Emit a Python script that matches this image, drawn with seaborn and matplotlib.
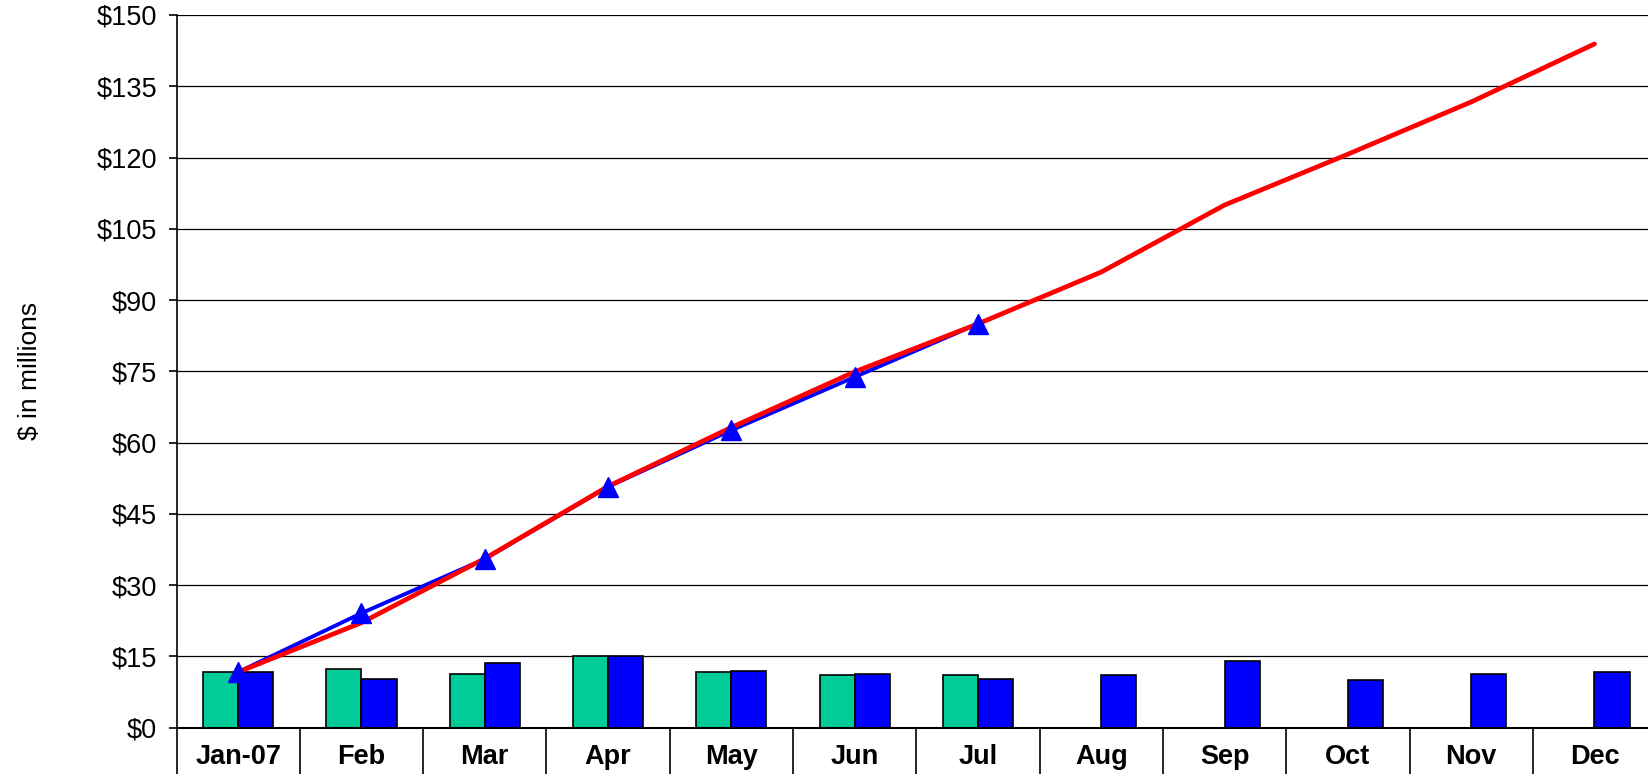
import numpy as np
import pandas as pd
import matplotlib
matplotlib.use("Agg")
import matplotlib.pyplot as plt
from matplotlib.ticker import FixedLocator, FuncFormatter
import seaborn as sns

# data
months = ["Jan-07", "Feb", "Mar", "Apr", "May", "Jun",
          "Jul", "Aug", "Sep", "Oct", "Nov", "Dec"]
actual_monthly = [11.7, 12.3, 11.3, 15.0, 11.7, 11.0, 11.0,
                  np.nan, np.nan, np.nan, np.nan, np.nan]
plan_monthly = [11.7, 10.3, 13.7, 15.0, 12.0, 11.3, 10.3,
                11.0, 14.0, 10.0, 11.3, 11.7]
actual_cum = [11.7, 24.1, 35.5, 50.7, 62.6, 73.8, 85.0,
              np.nan, np.nan, np.nan, np.nan, np.nan]
plan_cum = [11.7, 22.1, 35.6, 50.8, 63.2, 74.9, 85.0,
            95.9, 110.0, 120.7, 131.7, 143.9]

sns.set_theme(style="white")
plt.rcParams["font.family"] = ["Liberation Sans", "DejaVu Sans"]
plt.rcParams["text.color"] = "black"
plt.rcParams["xtick.color"] = "black"
plt.rcParams["ytick.color"] = "black"
plt.rcParams["axes.labelcolor"] = "black"

bars = pd.DataFrame({
    "month": months * 2,
    "value": actual_monthly + plan_monthly,
    "series": ["Actual"] * 12 + ["Plan"] * 12,
})

fig = plt.figure(figsize=(16.48, 7.74), dpi=100)
# plot area runs slightly past the right edge of the image, as in the reference
ax = fig.add_axes([176.5 / 1648, 1 - 727.7 / 774, 12 * 123.3 / 1648, (727.7 - 15) / 774])

sns.barplot(data=bars, x="month", y="value", hue="series", order=months,
            palette={"Actual": "#00CC99", "Plan": "#0000FF"}, saturation=1,
            width=0.57, gap=0, edgecolor="black", linewidth=1.2,
            legend=False, ax=ax, zorder=2)

x = np.arange(len(months))
ax.plot(x, actual_cum, color="#0000FF", lw=2.8, zorder=3)
ax.plot(x, plan_cum, color="#FF0000", lw=3.4, zorder=4)
ax.plot(x, actual_cum, color="#0000FF", ls="none", marker="^", ms=15, zorder=5)

ax.set_ylim(0, 150)
ax.set_xlim(-0.5, 11.5)
ax.set_yticks(np.arange(0, 151, 15))
ax.yaxis.set_major_formatter(FuncFormatter(lambda v, p: f"${v:.0f}"))
ax.grid(axis="y", color="black", lw=0.9)
ax.set_axisbelow(True)

# category dividers below the axis
ax.xaxis.set_minor_locator(FixedLocator(np.arange(-0.5, 12, 1)))
ax.tick_params(axis="x", which="minor", bottom=True, length=40, width=1.2,
               color="black", direction="out")
ax.tick_params(axis="x", which="major", bottom=True, length=0, pad=12, labelsize=19.5)
for lbl in ax.get_xticklabels():
    lbl.set_fontweight("bold")
ax.tick_params(axis="y", which="major", left=True, length=6, width=1.2, color="black",
               direction="out", labelsize=19.5, pad=8)

for s in ["top", "right"]:
    ax.spines[s].set_visible(False)
ax.spines["left"].set_color("black")
ax.spines["left"].set_linewidth(1.2)
ax.spines["bottom"].set_color("black")
ax.spines["bottom"].set_linewidth(1.5)

ax.set_xlabel("")
ax.set_ylabel("$ in millions", fontsize=19, labelpad=39)

fig.savefig("out.png", dpi=100)
